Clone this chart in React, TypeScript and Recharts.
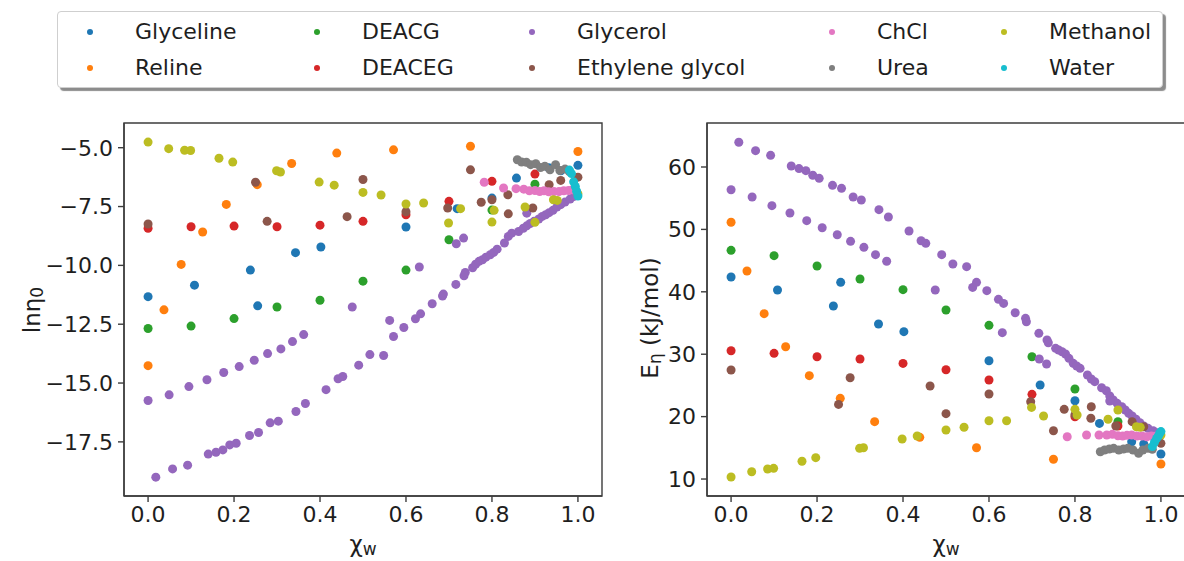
import React from 'react';
import { ScatterChart, Scatter, XAxis, YAxis, ReferenceArea } from 'recharts';

const FONT = '"DejaVu Sans", Verdana, sans-serif';
const INK = '#1e1e1e';
const FRAME = '#3c3c3c';

// water mole fraction, ln(eta0) and E_eta (kJ/mol) for every mixture
const glycelineX = [0, 0.108, 0.238, 0.255, 0.343, 0.402, 0.6, 0.719, 0.8, 0.857, 0.932, 0.96, 1.0];
const glycelineLn = [-11.33, -10.84, -10.2, -11.72, -9.46, -9.22, -8.37, -7.59, -7.14, -6.29, -5.85, -5.98, -5.75];
const glycelineE = [42.37, 40.29, 37.72, 41.52, 34.84, 33.61, 28.96, 25.06, 22.55, 18.91, 15.98, 15.61, 14.01];

const relineX = [0, 0.037, 0.077, 0.127, 0.182, 0.254, 0.334, 0.439, 0.571, 0.75, 1.0];
const relineLn = [-14.26, -11.89, -9.96, -8.58, -7.41, -6.57, -5.67, -5.23, -5.09, -4.94, -5.16];
const relineE = [51.14, 43.33, 36.5, 31.2, 26.56, 22.93, 19.19, 16.68, 15.02, 13.16, 12.4];

const deacgX = [0, 0.1, 0.2, 0.3, 0.4, 0.5, 0.6, 0.7, 0.8, 0.9];
const deacgLn = [-12.68, -12.58, -12.26, -11.77, -11.48, -10.67, -10.2, -8.91, -7.65, -6.55];
const deacgE = [46.65, 45.79, 44.13, 42.05, 40.34, 37.08, 34.63, 29.6, 24.42, 19.19];

const deacegX = [0, 0.1, 0.2, 0.3, 0.4, 0.5, 0.6, 0.7, 0.8, 0.9];
const deacegLn = [-8.42, -8.36, -8.33, -8.36, -8.29, -8.13, -7.85, -7.28, -6.43, -6.12];
const deacegE = [30.56, 30.14, 29.6, 29.23, 28.53, 27.51, 25.87, 23.57, 19.98, 18.49];

// glycerol: two temperature sweeps
const glycerolHiX = [
  0.018, 0.057, 0.092, 0.14, 0.158, 0.174, 0.19, 0.205, 0.236, 0.257, 0.284, 0.303, 0.344, 0.366, 0.414,
  0.442, 0.453, 0.49, 0.516, 0.548, 0.562, 0.571, 0.595, 0.622, 0.634, 0.661, 0.685, 0.687, 0.716, 0.735,
  0.738, 0.755, 0.762, 0.77, 0.778, 0.786, 0.796, 0.804, 0.812, 0.829, 0.838, 0.846, 0.862, 0.873, 0.881,
  0.889, 0.898, 0.909, 0.917, 0.925, 0.933, 0.942, 0.951, 0.96, 0.97, 0.982, 0.991, 0.999,
];
const glycerolHiLn = [
  -19.0, -18.65, -18.49, -18.02, -17.94, -17.84, -17.63, -17.56, -17.23, -17.1, -16.69, -16.62, -16.21, -15.87, -15.28,
  -14.82, -14.72, -14.24, -13.79, -13.83, -12.34, -13.02, -12.64, -12.27, -12.06, -11.63, -11.3, -11.22, -10.81, -10.44,
  -10.3, -10.1, -9.95, -9.83, -9.76, -9.65, -9.55, -9.45, -9.31, -9.05, -8.77, -8.63, -8.56, -8.42, -8.32,
  -8.22, -8.13, -8.03, -7.92, -7.85, -7.76, -7.66, -7.52, -7.42, -7.31, -7.18, -7.07, -6.96,
];
const glycerolHiE = [
  63.96, 62.62, 61.87, 60.16, 59.74, 59.41, 58.67, 58.18, 57.06, 56.58, 55.19, 54.71, 53.16, 51.99, 49.74,
  48.19, 47.77, 45.95, 44.45, 44.03, 40.71, 41.52, 40.18, 38.79, 38.14, 36.65, 35.75, 35.21, 33.35, 32.28,
  31.84, 30.94, 30.67, 30.4, 30.03, 29.34, 28.54, 28.11, 27.74, 26.67, 26.03, 25.6, 24.63, 24.15, 23.3,
  22.66, 22.13, 21.59, 21.06, 20.52, 20.1, 19.57, 19.02, 18.49, 18.12, 17.74, 17.42, 17.1,
];
const glycerolLoX = [0, 0.049, 0.095, 0.137, 0.176, 0.212, 0.247, 0.278, 0.309, 0.336, 0.362, 0.475, 0.631, 0.717, 0.734, 0.881];
const glycerolLoLn = [-15.74, -15.5, -15.15, -14.86, -14.55, -14.3, -14.03, -13.75, -13.55, -13.24, -12.94, -11.77, -10.07, -9.08, -8.84, -7.78];
const glycerolLoE = [56.36, 55.19, 53.8, 52.63, 51.4, 50.27, 49.15, 48.09, 47.13, 45.95, 44.89, 40.29, 33.45, 29.23, 28.43, 22.5];

const egX = [0, 0.25, 0.277, 0.463, 0.5, 0.6, 0.697, 0.75, 0.775, 0.8, 0.837, 0.838, 0.895, 0.933, 0.96, 1.0];
const egLn = [-8.24, -6.47, -8.13, -7.93, -6.35, -7.72, -7.56, -5.94, -7.32, -7.21, -7.0, -7.81, -7.56, -6.57, -6.39, -6.25];
const egE = [27.47, 21.96, 26.23, 24.9, 20.47, 23.62, 22.39, 17.74, 21.17, 20.3, 19.73, 21.59, 18.49, 19.19, 18.38, 15.72];

const chclX = [0.782, 0.827, 0.856, 0.874, 0.887, 0.9, 0.911, 0.921, 0.932, 0.944, 0.956, 0.967, 0.978, 0.987];
const chclLn = [-6.47, -6.71, -6.74, -6.76, -6.83, -6.82, -6.86, -6.83, -6.87, -6.86, -6.86, -6.83, -6.82, -6.79];
const chclE = [16.78, 17.05, 17.05, 17.05, 17.16, 16.94, 16.89, 17.0, 17.05, 16.89, 16.89, 16.78, 16.89, 16.85];

const ureaX = [0.859, 0.869, 0.88, 0.89, 0.902, 0.913, 0.923, 0.935, 0.948, 0.958, 0.97, 0.98];
const ureaLn = [-5.51, -5.61, -5.62, -5.72, -5.68, -5.84, -5.79, -5.94, -5.72, -5.97, -5.91, -6.01];
const ureaE = [14.37, 14.65, 14.81, 14.92, 14.65, 14.81, 14.92, 14.65, 14.12, 14.65, 14.92, 14.76];

const methanolX = [0, 0.048, 0.085, 0.099, 0.165, 0.197, 0.299, 0.308, 0.398, 0.433, 0.5, 0.542, 0.6, 0.641, 0.699, 0.727, 0.8, 0.805, 0.877, 0.9, 0.943, 0.952, 1.0];
const methanolLn = [-4.76, -5.04, -5.11, -5.12, -5.45, -5.61, -5.98, -6.03, -6.46, -6.59, -6.9, -7.01, -7.39, -7.35, -8.2, -7.59, -8.16, -7.66, -7.52, -8.17, -7.21, -7.24, -6.96];
const methanolE = [10.32, 11.17, 11.6, 11.71, 12.84, 13.42, 14.92, 15.02, 16.41, 16.89, 17.85, 18.29, 19.34, 19.34, 21.48, 20.1, 21.17, 20.26, 19.57, 21.06, 18.38, 18.28, 17.05];

const waterX = [0.98, 0.985, 0.99, 0.994, 0.997, 1.0];
const waterLn = [-5.95, -6.1, -6.45, -6.65, -6.85, -7.05];
const waterE = [15.2, 15.9, 16.5, 16.9, 17.3, 17.6];

const series = [
  { name: 'Glyceline', color: '#1f77b4', x: glycelineX, ln: glycelineLn, e: glycelineE },
  { name: 'Reline', color: '#ff7f0e', x: relineX, ln: relineLn, e: relineE },
  { name: 'DEACG', color: '#2ca02c', x: deacgX, ln: deacgLn, e: deacgE },
  { name: 'DEACEG', color: '#d62728', x: deacegX, ln: deacegLn, e: deacegE },
  {
    name: 'Glycerol',
    color: '#9467bd',
    x: [...glycerolHiX, ...glycerolLoX],
    ln: [...glycerolHiLn, ...glycerolLoLn],
    e: [...glycerolHiE, ...glycerolLoE],
  },
  { name: 'Ethylene glycol', color: '#8c564b', x: egX, ln: egLn, e: egE },
  { name: 'ChCl', color: '#e377c2', x: chclX, ln: chclLn, e: chclE },
  { name: 'Urea', color: '#7f7f7f', x: ureaX, ln: ureaLn, e: ureaE },
  { name: 'Methanol', color: '#bcbd22', x: methanolX, ln: methanolLn, e: methanolE },
  { name: 'Water', color: '#17becf', x: waterX, ln: waterLn, e: waterE },
];

const xTicks = [0, 0.2, 0.4, 0.6, 0.8, 1.0];
const lnTicks = [-17.5, -15, -12.5, -10, -7.5, -5];
const eTicks = [10, 20, 30, 40, 50, 60];

const xDomain = [-0.056, 1.056];
const lnDomain = [-19.8, -3.95];
const eDomain = [7.28, 67.05];

const tickStyle = { fontSize: 22, fill: INK, fontFamily: FONT };
const fmt = (v: number) => v.toFixed(1).replace('-', '\u2212');

const Dot = (props: any) => <circle cx={props.cx} cy={props.cy} r={4.5} fill={props.fill} />;

function XTitle({ cx }: { cx: number }) {
  return (
    <text x={cx} y={552} textAnchor="middle" fontSize={23} fill={INK} fontFamily={FONT}>
      χ<tspan fontSize={17} dy={3}>w</tspan>
    </text>
  );
}

function Panel({
  width,
  yWidth,
  rightMargin,
  yKey,
  yDomain,
  yTicks,
  yFmt,
  title,
}: {
  width: number;
  yWidth: number;
  rightMargin: number;
  yKey: 'ln' | 'e';
  yDomain: number[];
  yTicks: number[];
  yFmt: (v: number) => string;
  title: React.ReactNode;
}) {
  const plotCx = yWidth + (width - yWidth - rightMargin) / 2;
  return (
    <ScatterChart width={width} height={561} margin={{ top: 123, right: rightMargin, bottom: 0, left: 0 }}>
      <XAxis
        type="number"
        dataKey="x"
        domain={xDomain}
        ticks={xTicks}
        interval={0}
        tickFormatter={fmt}
        tick={tickStyle}
        tickSize={6}
        tickMargin={4}
        height={65}
        stroke={FRAME}
        strokeWidth={1.4}
        allowDataOverflow
      />
      <YAxis
        type="number"
        dataKey="y"
        domain={yDomain}
        ticks={yTicks}
        interval={0}
        tickFormatter={yFmt}
        tick={tickStyle}
        tickSize={6}
        tickMargin={5}
        width={yWidth}
        stroke={FRAME}
        strokeWidth={1.4}
        allowDataOverflow
      />
      {/* box around the axes */}
      <ReferenceArea
        x1={xDomain[0]}
        x2={xDomain[1]}
        y1={yDomain[0]}
        y2={yDomain[1]}
        fill="none"
        stroke={FRAME}
        strokeWidth={1.4}
        ifOverflow="visible"
      />
      {series.map((s) => (
        <Scatter
          key={s.name}
          name={s.name}
          data={s.x.map((x, i) => ({ x, y: s[yKey][i] }))}
          fill={s.color}
          shape={Dot}
          isAnimationActive={false}
        />
      ))}
      {title}
      <XTitle cx={plotCx} />
    </ScatterChart>
  );
}

// legend columns: two entries each, laid out like the figure legend
const legendCols = [89, 316, 531, 831, 1003];

function Legend() {
  return (
    <div
      style={{
        position: 'absolute',
        left: 57,
        top: 11,
        width: 1106,
        height: 77,
        background: '#fff',
        border: '1px solid #cfcfcf',
        borderRadius: 4,
        boxShadow: '3px 3px 1px rgba(0,0,0,0.45)',
        boxSizing: 'border-box',
      }}
    >
      {series.map((s, i) => {
        const col = Math.floor(i / 2);
        const row = i % 2;
        const cy = row === 0 ? 20 : 56;
        const mx = legendCols[col] - 57;
        return (
          <React.Fragment key={s.name}>
            <div
              style={{
                position: 'absolute',
                left: mx - 3,
                top: cy - 3,
                width: 6,
                height: 6,
                borderRadius: 3,
                background: s.color,
              }}
            />
            <div
              style={{
                position: 'absolute',
                left: mx + 45,
                top: cy - 14,
                fontSize: 22,
                lineHeight: '28px',
                fontFamily: FONT,
                color: INK,
                whiteSpace: 'nowrap',
              }}
            >
              {s.name}
            </div>
          </React.Fragment>
        );
      })}
    </div>
  );
}

export default function App() {
  return (
    <div style={{ position: 'absolute', left: 0, top: 0, width: 1184, height: 561, background: '#fff', overflow: 'hidden' }}>
      <div style={{ position: 'absolute', left: 0, top: 0 }}>
        <Panel
          width={610}
          yWidth={124}
          rightMargin={8}
          yKey="ln"
          yDomain={lnDomain}
          yTicks={lnTicks}
          yFmt={fmt}
          title={
            <text
              x={32}
              y={310}
              transform="rotate(-90, 32, 310)"
              textAnchor="middle"
              dominantBaseline="central"
              fontSize={23}
              fill={INK}
              fontFamily={FONT}
            >
              lnη<tspan fontSize={17} dy={5}>0</tspan>
            </text>
          }
        />
      </div>
      <div style={{ position: 'absolute', left: 600, top: 0 }}>
        <Panel
          width={585}
          yWidth={107}
          rightMargin={0}
          yKey="e"
          yDomain={eDomain}
          yTicks={eTicks}
          yFmt={(v) => String(v)}
          title={
            <text
              x={50}
              y={318}
              transform="rotate(-90, 50, 318)"
              textAnchor="middle"
              dominantBaseline="central"
              fontSize={23}
              fill={INK}
              fontFamily={FONT}
            >
              E<tspan fontSize={17} dy={5}>η</tspan>
              <tspan dy={-5}> (kJ/mol)</tspan>
            </text>
          }
        />
      </div>
      <Legend />
    </div>
  );
}
